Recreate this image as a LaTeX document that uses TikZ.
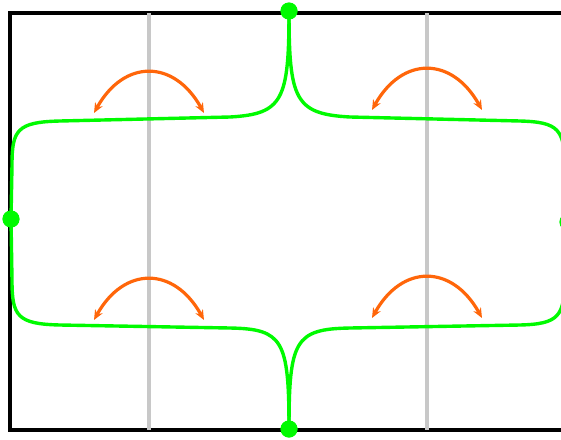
\documentclass[tikz,border=0pt]{standalone}
\usetikzlibrary{arrows.meta}
\definecolor{bracegreen}{RGB}{0, 250, 0}
\definecolor{swaporange}{RGB}{255, 102, 10}
\definecolor{guidegray}{RGB}{200, 200, 200}

\begin{document}
\begin{tikzpicture}[
  x=1pt, y=-1pt,
  frame/.style={draw=black, line width=3.4pt},
  guide/.style={draw=guidegray, line width=3.2pt},
  brace/.style={draw=bracegreen, line width=3.4pt},
  swap/.style={{Stealth[length=10pt, width=8.5pt]}-{Stealth[length=10pt, width=8.5pt]}, line width=3.2pt, draw=swaporange},
  dot/.style={circle, fill=bracegreen, inner sep=0pt, minimum size=17pt},
]
\useasboundingbox (0,0) rectangle (561,439);

%% Frame and guides
\draw[frame] (10,13) rectangle (568,430);
\foreach \gx in {149, 427} {
  \draw[guide] (\gx,13) -- (\gx,430);
}

%% End points
\node[dot] (ntop)   at (289,11)  {};
\node[dot] (nleft)  at (11,219)  {};
\node[dot] (nbot)   at (289,429) {};
\node[dot] (nright) at (568,222) {};

%% Braces
\draw[brace] (ntop.center) .. controls (289,100) and (283,114) .. (230,117)
  -- (60,121) .. controls (17,122) and (12,130) .. (12,165) -- (nleft.center);
\draw[brace] (ntop.center) .. controls (289,100) and (295,114) .. (350,117)
  -- (520,121) .. controls (559,122) and (564,130) .. (565,165) -- (nright.center);
\draw[brace] (nbot.center) .. controls (289,340) and (283,329) .. (230,328)
  -- (60,325) .. controls (17,324) and (12,316) .. (12,280) -- (nleft.center);
\draw[brace] (nbot.center) .. controls (289,340) and (295,329) .. (350,328)
  -- (520,325) .. controls (559,324) and (564,316) .. (565,280) -- (nright.center);

%% Dots on top
\foreach \n in {ntop, nleft, nbot, nright} {
  \fill[bracegreen] (\n.center) circle (8.5pt);
}

%% Swap arcs
\foreach \cx/\cy/\k in {149/113/a, 427/110/b, 149/320/c, 427/318/d} {
  \coordinate (s\k) at (\cx-55,\cy);
  \coordinate (e\k) at (\cx+55,\cy);
  \draw[swap] (s\k) .. controls (\cx-25,\cy-54) and (\cx+25,\cy-54) .. (e\k);
}

\end{tikzpicture}
\end{document}
